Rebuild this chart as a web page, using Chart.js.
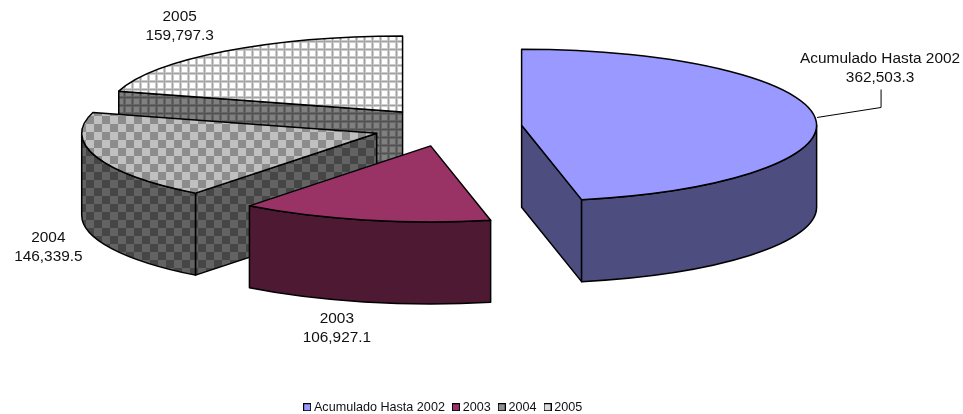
<!DOCTYPE html>
<html>
<head>
<meta charset="utf-8">
<style>
  html, body { margin: 0; padding: 0; background: #fff; overflow: hidden; }
  canvas { display: block; }
</style>
<script src="https://cdn.jsdelivr.net/npm/chart.js@4"></script>
</head>
<body>
<canvas id="myPieChart" width="963" height="414"></canvas>
<script>
/*  data
-------------------------------------------------------*/
var categories = ['Acumulado Hasta 2002', '2003', '2004', '2005'];
var values = [362503.3, 106927.1, 146339.5, 159797.3];

/*  look of the tilted pie
-------------------------------------------------------*/
var FONT = '"Liberation Sans", Arial, sans-serif';
var TILT = 0.2576;      // ellipse height / width
var DEPTH = 82;         // wall height
var EXPLODE = 74.5;     // how far each slice is pulled out
var PIE_Y = 127.2;      // vertical centre of the tilted pie
var RADIUS = 295;

function tile(size, paint) {
  var c = document.createElement('canvas');
  c.width = c.height = size;
  paint(c.getContext('2d'));
  return c;
}
function checker(light, dark) {
  return tile(16, function (g) {
    g.fillStyle = light; g.fillRect(0, 0, 16, 16);
    g.fillStyle = dark;
    // dark cells start at x=6, y=4 and wrap round the tile
    [[6, 4], [14, 12], [-2, 12], [14, -4], [-2, -4]].forEach(function (p) {
      g.fillRect(p[0], p[1], 8, 8);
    });
  });
}
function grid(cell, edge, line) {
  return tile(8, function (g) {
    g.fillStyle = cell; g.fillRect(0, 0, 8, 8);
    g.fillStyle = edge; g.fillRect(3, 0, 3, 8); g.fillRect(0, 0, 8, 3);
    g.fillStyle = line; g.fillRect(4, 0, 1, 8); g.fillRect(0, 1, 8, 1);
  });
}
function swatch(fill) {
  return tile(8, function (g) {
    g.fillStyle = fill; g.fillRect(0, 0, 8, 8);
    g.strokeStyle = '#000'; g.lineWidth = 1; g.strokeRect(0.5, 0.5, 7, 7);
  });
}
var scratch = document.createElement('canvas').getContext('2d');
var topFills = ['#9999ff', '#993366',
  scratch.createPattern(checker('#c0c0c0', '#8c8c8c'), 'repeat'),
  scratch.createPattern(grid('#ffffff', '#cccccc', '#a4a4a4'), 'repeat')];
var sideFills = ['#4d4d7f', '#4d1933',
  scratch.createPattern(checker('#636363', '#464646'), 'repeat'),
  scratch.createPattern(grid('#808080', '#666666', '#525252'), 'repeat')];
var legendSwatches = [swatch('#9999ff'), swatch('#993366'), swatch('#8f8f8f'), swatch('#dcdcdc')];
// label centre, relative to the rim point at the middle of each slice
var labelNudge = [[65, -50], [-27, 108], [-48, 90], [-45, -26]];

/*  plugin: draws the arcs chart.js laid out as a tilted, exploded pie
-------------------------------------------------------*/
function sliceCentre(arc) {
  var mid = (arc.startAngle + arc.endAngle) / 2;
  return {
    x: arc.x + Math.cos(mid) * EXPLODE,
    y: PIE_Y + Math.sin(mid) * EXPLODE * TILT
  };
}
function paint(ctx, fill) {
  ctx.fillStyle = fill;
  ctx.fill();
  ctx.lineWidth = 1.5;
  ctx.strokeStyle = '#000';
  ctx.lineJoin = 'round';
  ctx.stroke();
}
function radialWall(ctx, c, r, angle, fill) {
  var x = c.x + Math.cos(angle) * r;
  var y = c.y + Math.sin(angle) * r * TILT;
  ctx.beginPath();
  ctx.moveTo(c.x, c.y);
  ctx.lineTo(x, y);
  ctx.lineTo(x, y + DEPTH);
  ctx.lineTo(c.x, c.y + DEPTH);
  ctx.closePath();
  paint(ctx, fill);
}
var pie3d = {
  id: 'pie3d',
  afterLayout: function (chart) {
    chart.legend.top += 9.5;
    chart.legend.bottom += 9.5;
    chart.legend.left -= 3;
    chart.legend.right -= 3;
  },
  beforeDatasetsDraw: function (chart) {
    var ctx = chart.ctx;
    var arcs = chart.getDatasetMeta(0).data;
    ctx.save();
    for (var i = arcs.length - 1; i >= 0; i--) {
      var arc = arcs[i];
      var c = sliceCentre(arc);
      var r = arc.outerRadius;
      var a0 = arc.startAngle, a1 = arc.endAngle;
      if (Math.cos(a0) < -0.001) radialWall(ctx, c, r, a0, sideFills[i]);
      if (Math.cos(a1) > 0.001) radialWall(ctx, c, r, a1, sideFills[i]);
      var from = Math.max(a0, 0), to = Math.min(a1, Math.PI);
      if (to > from) {
        ctx.beginPath();
        ctx.ellipse(c.x, c.y, r, r * TILT, 0, from, to);
        ctx.ellipse(c.x, c.y + DEPTH, r, r * TILT, 0, to, from, true);
        ctx.closePath();
        paint(ctx, sideFills[i]);
      }
      ctx.beginPath();
      ctx.moveTo(c.x, c.y);
      ctx.ellipse(c.x, c.y, r, r * TILT, 0, a0, a1);
      ctx.closePath();
      paint(ctx, topFills[i]);
    }
    // data labels
    ctx.font = '15.4px ' + FONT;
    ctx.fillStyle = '#111';
    ctx.textAlign = 'center';
    ctx.textBaseline = 'middle';
    arcs.forEach(function (arc, i) {
      var c = sliceCentre(arc);
      var mid = (arc.startAngle + arc.endAngle) / 2;
      var rx = c.x + Math.cos(mid) * arc.outerRadius;
      var ry = c.y + Math.sin(mid) * arc.outerRadius * TILT;
      var x = rx + labelNudge[i][0], y = ry + labelNudge[i][1];
      ctx.fillText(categories[i], x, y - 9);
      ctx.fillText(values[i].toLocaleString('en-US', {minimumFractionDigits: 1}), x, y + 10);
      if (i === 0) {
        // leader line of the first label
        ctx.beginPath();
        ctx.moveTo(rx + 2, ry);
        ctx.lineTo(rx + 66, ry - 10);
        ctx.lineTo(rx + 66, ry - 28);
        ctx.lineWidth = 1;
        ctx.strokeStyle = '#000';
        ctx.stroke();
      }
    });
    ctx.restore();
    return false;
  }
};

/*  chart
-------------------------------------------------------*/
var ctx = document.getElementById('myPieChart');
var myPieChart = new Chart(ctx, {
  type: 'pie',
  data: {
    labels: categories,
    datasets: [{
      data: values,
      backgroundColor: ['#9999ff', '#993366', '#8f8f8f', '#dcdcdc'],
      radius: RADIUS
    }]
  },
  options: {
    responsive: false,
    animation: false,
    layout: { padding: { right: 68 } },
    plugins: {
      tooltip: { enabled: false },
      legend: {
        position: 'bottom',
        labels: {
          font: { family: FONT, size: 12.6 },
          color: '#111',
          padding: 10.5,
          usePointStyle: true,
          pointStyleWidth: 1,
          generateLabels: function () {
            return categories.map(function (name, i) {
              return { text: name, pointStyle: legendSwatches[i], fontColor: '#111', index: i, hidden: false };
            });
          }
        }
      }
    }
  },
  plugins: [pie3d]
});
</script>
</body>
</html>
